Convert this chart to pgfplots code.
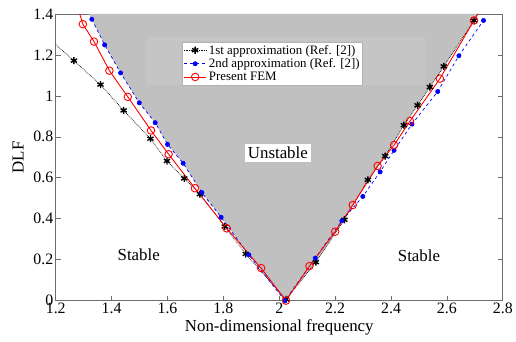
\documentclass[border=0pt]{standalone}
\usepackage{pgfplots}
\pgfplotsset{compat=1.18}
\usepackage{fontspec}
\setmainfont{Liberation Serif}
\usetikzlibrary{plotmarks}
\definecolor{fillgray}{RGB}{192,192,192}
\definecolor{litegray}{RGB}{197,197,197}
\definecolor{axgray}{RGB}{110,110,110}
\begin{document}
\begin{tikzpicture}
\begin{axis}[
  name=ax,
  scale only axis,
  width=449bp, height=288bp,
  xmin=1.2, xmax=2.8, ymin=0, ymax=1.4,
  xtick={1.2,1.4,...,2.81}, ytick={0,0.2,...,1.41},
  xticklabels={1.2,1.4,1.6,1.8,2,2.2,2.4,2.6,2.8},
  yticklabels={0,0.2,0.4,0.6,0.8,1,1.2,1.4},
  tick align=inside,
  major tick length=5bp,
  axis line style={axgray, line width=0.8pt},
  tick style={axgray, line width=0.6pt},
  /pgf/number format/assume math mode=true,
  tick label style={font=\fontsize{16}{18}\selectfont},
  xticklabel style={yshift=1.5bp},
  yticklabel style={xshift=1bp},
  label style={font=\fontsize{17}{20}\selectfont},
  xlabel={Non-dimensional frequency},
  ylabel={DLF},
  xlabel style={yshift=1bp},
  ylabel style={yshift=3bp},
  clip=false,
  legend style={at={(0.283,0.903)}, anchor=north west, draw=gray!60, fill=white,
    font=\fontsize{13}{14}\selectfont, inner sep=1pt, row sep=-1pt,
    legend cell align=left},
  legend image code/.code={\draw[mark repeat=2,mark phase=2] plot coordinates {(0cm,0cm) (0.4cm,0cm) (0.8cm,0cm)};},
]
% unstable region (between 2nd approx. on the left and 1st approx. on the right)
\addplot[fill=fillgray, draw=none, forget plot] coordinates {
(1.319,1.4) (1.329,1.374) (1.375,1.249) (1.432,1.112) (1.499,0.966) (1.556,0.869)
(1.600,0.763) (1.656,0.671) (1.723,0.528) (1.792,0.407) (1.891,0.224) (2.020,0.0)
(2.131,0.188) (2.233,0.395) (2.317,0.590) (2.379,0.706) (2.446,0.857) (2.495,0.954)
(2.539,1.043) (2.589,1.144) (2.697,1.368) (2.712,1.4)};
\addplot[fill=litegray, draw=none, forget plot] coordinates {
(1.524,1.288) (2.522,1.288) (2.522,1.055) (1.524,1.055)};
% line ends reaching the axis frame
\addplot[black, densely dotted, line width=0.7pt, forget plot] coordinates {(1.2,1.25) (1.265,1.172)};
\addplot[black, densely dotted, line width=0.7pt, forget plot] coordinates {(2.697,1.368) (2.712,1.4)};
\addplot[red, line width=0.9pt, forget plot] coordinates {(1.286,1.4) (1.297,1.350)};
\addplot[red, line width=0.9pt, forget plot] coordinates {(2.697,1.368) (2.710,1.4)};
% 1st approximation
\addplot[black, densely dotted, line width=0.7pt, mark=asterisk, mark size=3.6pt,
  mark options={solid, line width=1.4pt}] coordinates {
(1.265,1.172) (1.360,1.055) (1.443,0.929) (1.539,0.791) (1.598,0.682)
(1.660,0.597) (1.716,0.520) (1.805,0.362) (1.880,0.228) (2.024,0.006)
(2.131,0.188) (2.233,0.395) (2.317,0.590) (2.379,0.706) (2.446,0.857) (2.495,0.954)
(2.539,1.043) (2.589,1.144) (2.697,1.368)};
\addlegendentry{1st approximation (Ref. [2])}
% 2nd approximation
\addplot[blue, dashed, line width=0.7pt, mark=*, mark size=2.1pt,
  mark options={solid, fill=blue}] coordinates {
(1.329,1.374) (1.375,1.249) (1.432,1.112) (1.499,0.966) (1.556,0.869) (1.600,0.763)
(1.656,0.671) (1.723,0.528) (1.792,0.407) (1.891,0.224) (2.020,0.0)
(2.129,0.208) (2.224,0.390) (2.299,0.509) (2.361,0.629) (2.411,0.734) (2.475,0.862)
(2.567,1.021) (2.643,1.196) (2.731,1.368)};
\addlegendentry{2nd approximation (Ref. [2])}
% Present FEM
\addplot[red, line width=0.9pt, mark=o, mark size=3.8pt,
  mark options={solid, line width=0.9pt}] coordinates {
(1.297,1.350) (1.337,1.265) (1.392,1.123) (1.458,0.995) (1.541,0.831)
(1.604,0.715) (1.698,0.549) (1.812,0.353) (1.935,0.159) (2.024,0.0)
(2.108,0.169) (2.200,0.337) (2.263,0.467) (2.352,0.658) (2.411,0.760) (2.468,0.877)
(2.575,1.084) (2.697,1.368)};
\addlegendentry{Present FEM}
\node[fill=white, inner sep=3pt, font=\fontsize{17}{20}\selectfont] at (axis cs:1.995,0.722) {Unstable};
\node[font=\fontsize{17}{20}\selectfont] at (axis cs:1.497,0.224) {Stable};
\node[font=\fontsize{17}{20}\selectfont] at (axis cs:2.50,0.219) {Stable};
\end{axis}
\path ([xshift=-56bp,yshift=-41bp]ax.south west) rectangle ([xshift=11bp,yshift=14bp]ax.north east);
\end{tikzpicture}
\end{document}
